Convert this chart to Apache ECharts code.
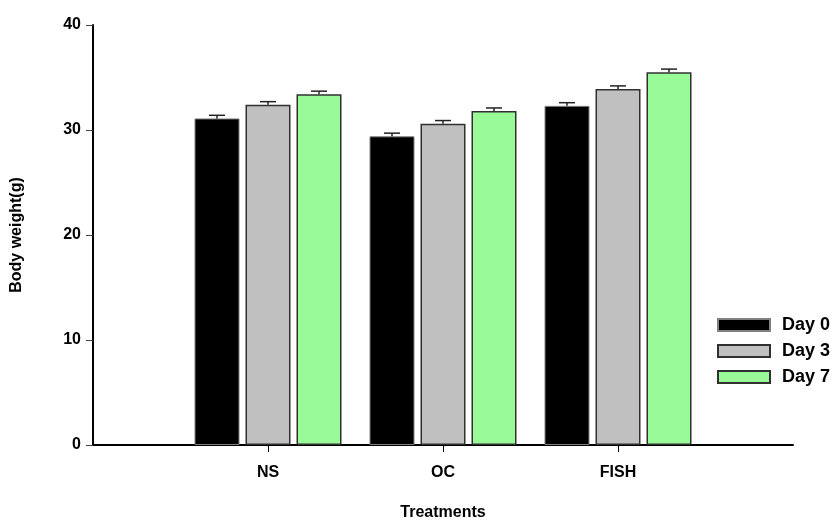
<!DOCTYPE html>
<html>
<head>
<meta charset="utf-8">
<script src="https://cdn.jsdelivr.net/npm/echarts@6/dist/echarts.min.js"></script>
<style>html,body{margin:0;padding:0;background:#fff;}#c{width:838px;height:526px;}</style>
</head>
<body>
<div id="c"></div>
<script>
const categories = ['', 'NS', 'OC', 'FISH', ''];
const seriesNames = ['Day 0', 'Day 3', 'Day 7'];
const day0 = [null, 31.1, 29.4, 32.3, null];
const day3 = [null, 32.4, 30.6, 33.9, null];
const day7 = [null, 33.4, 31.8, 35.5, null];
const err0 = [null, 0.3, 0.3, 0.3, null];
const err3 = [null, 0.3, 0.3, 0.3, null];
const err7 = [null, 0.3, 0.3, 0.3, null];
const yTicks = [0, 10, 20, 30, 40];

const values = [day0, day3, day7];
const errs = [err0, err3, err7];
const colors = ['#000000', '#c0c0c0', '#98fb98'];
const borders = ['#808080', '#303030', '#303030'];
const BAR_W = 45, GAP = 6;

const chart = echarts.init(document.getElementById('c'), null, {renderer: 'canvas'});
const font = '"Liberation Sans", Arial, sans-serif';

const barSeries = seriesNames.map((n, i) => ({
  name: n, type: 'bar', data: values[i], barWidth: BAR_W, barGap: (GAP / BAR_W * 100) + '%',
  itemStyle: {color: colors[i], borderColor: borders[i], borderWidth: i === 0 ? 1 : 1.5},
  emphasis: {disabled: true}
}));

const errSeries = seriesNames.map((n, i) => ({
  type: 'custom', name: n + ' err', silent: true, z: 5,
  data: values[i].map((v, k) => v == null ? null : [k, v, errs[i][k]]).filter(d => d),
  renderItem: function (params, api) {
    const k = api.value(0), v = api.value(1), e = api.value(2);
    const off = (i - 1) * (BAR_W + GAP);
    const base = api.coord([k, v]);
    const top = api.coord([k, v + e]);
    const x = base[0] + off;
    const style = {stroke: '#222', lineWidth: 1.5};
    return {type: 'group', children: [
      {type: 'line', shape: {x1: x, y1: base[1], x2: x, y2: top[1]}, style: style},
      {type: 'line', shape: {x1: x - 8, y1: top[1], x2: x + 8, y2: top[1]}, style: style}
    ]};
  }
}));

chart.setOption({
  animation: false,
  backgroundColor: '#fff',
  grid: {left: 93, right: 45, top: 25, bottom: 73, containLabel: false},
  legend: {
    data: seriesNames, orient: 'vertical', left: 712, top: 311,
    itemWidth: 52, itemHeight: 12, itemGap: 8,
    textStyle: {fontFamily: font, fontWeight: 'bold', fontSize: 18, color: '#000', lineHeight: 12, padding: [0, 0, 0, 7]},
    icon: 'rect'
  },
  xAxis: {
    type: 'category', data: categories, boundaryGap: false,
    name: 'Treatments', nameLocation: 'middle', nameGap: 60,
    nameTextStyle: {fontFamily: font, fontWeight: 'bold', fontSize: 16, color: '#000'},
    axisLine: {lineStyle: {color: '#000', width: 2}},
    axisTick: {length: 7, lineStyle: {color: '#000'}, interval: function (i) { return i > 0 && i < 4; }},
    axisLabel: {margin: 20, fontFamily: font, fontWeight: 'bold', fontSize: 16, color: '#000', interval: 0},
    splitLine: {show: false}
  },
  yAxis: {
    type: 'value', min: 0, max: 40, interval: 10,
    name: 'Body weight(g)', nameLocation: 'middle', nameGap: 68, nameRotate: 90,
    nameTextStyle: {fontFamily: font, fontWeight: 'bold', fontSize: 16, color: '#000'},
    axisLine: {show: true, lineStyle: {color: '#000', width: 2}},
    axisTick: {show: true, length: 7, lineStyle: {color: '#444'}},
    axisLabel: {margin: 12, fontFamily: font, fontWeight: 'bold', fontSize: 16, color: '#000',
      formatter: function (v) { return yTicks.indexOf(v) >= 0 ? String(v) : ''; }},
    splitLine: {show: false}
  },
  series: barSeries.concat(errSeries)
});
</script>
</body>
</html>
